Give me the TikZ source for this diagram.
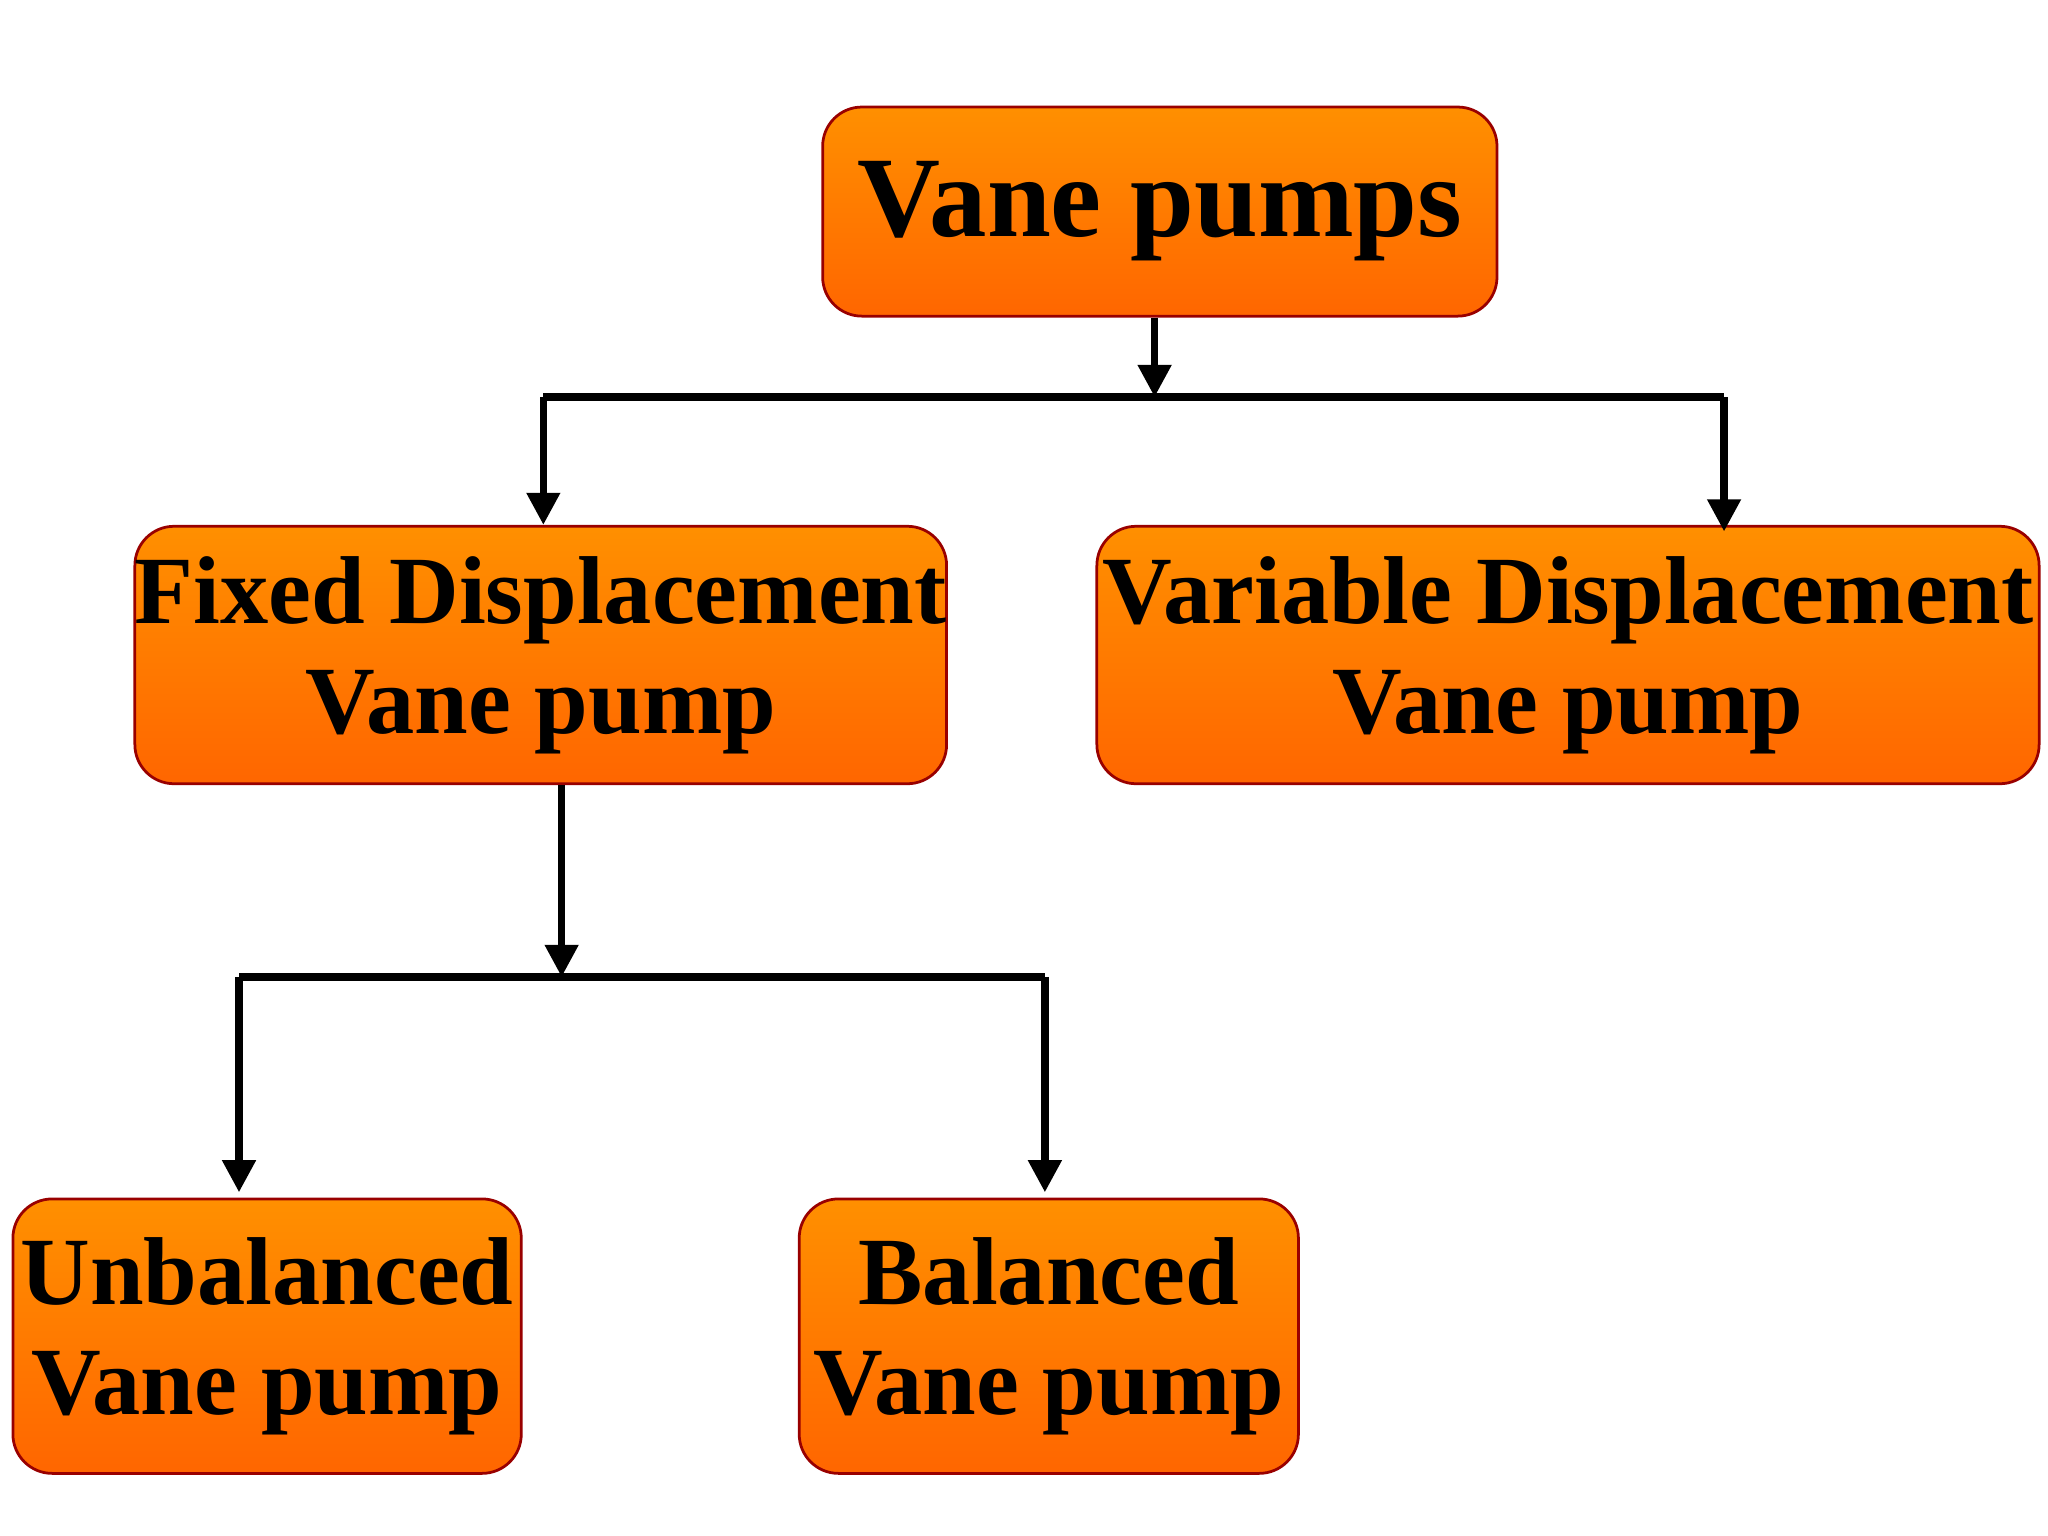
\documentclass[tikz,border=0pt]{standalone}
\usepackage{fontspec}
\setmainfont{Liberation Serif}
\usetikzlibrary{arrows.meta}
\begin{document}
\begin{tikzpicture}[x=0.01cm,y=-0.01cm,
  box/.style={draw=red!60!black,line width=0.6pt,rounded corners=0.3cm,
    top color=orange!75!yellow!90!red,bottom color=orange!80!red,
    align=center,inner sep=0pt,font=\bfseries\fontsize{21}{24}\selectfont},
  conn/.style={line width=1.6pt,-{Triangle[length=7pt,width=7pt]}},
  ln/.style={line width=1.6pt}]
\useasboundingbox (0,0) rectangle (1568,1176);
\node[box,minimum width=5.16cm,minimum height=1.6cm,font=\bfseries\fontsize{25}{28}\selectfont] (top) at (888,162) {Vane pumps};
\node[box,minimum width=6.16cm,minimum height=1.97cm] (fix) at (414,501.5) {Fixed Displacement\\Vane pump};
\node[box,minimum width=7.21cm,minimum height=1.97cm] (var) at (1200.5,501.5) {Variable Displacement\\Vane pump};
\node[box,minimum width=3.89cm,minimum height=2.1cm] (unb) at (204.5,1023) {Unbalanced\\Vane pump};
\node[box,minimum width=3.82cm,minimum height=2.1cm] (bal) at (803,1023) {Balanced\\Vane pump};
\coordinate (j1) at (884,304);
\coordinate (l1) at (416,304);
\coordinate (r1) at (1320,304);
\draw[conn] (top.south -| j1) -- (j1);
\draw[ln] (l1) -- (r1);
\draw[conn] (l1) -- (l1 |- fix.north);
\draw[conn] (r1) -- ([yshift=-0.05cm]r1 |- var.north);
\coordinate (j2) at (430,748);
\coordinate (l2) at (183,748);
\coordinate (r2) at (800,748);
\draw[conn] (fix.south -| j2) -- (j2);
\draw[ln] (l2) -- (r2);
\draw[conn] (l2) -- ([yshift=0.04cm]l2 |- unb.north);
\draw[conn] (r2) -- ([yshift=0.04cm]r2 |- bal.north);
\end{tikzpicture}
\end{document}
